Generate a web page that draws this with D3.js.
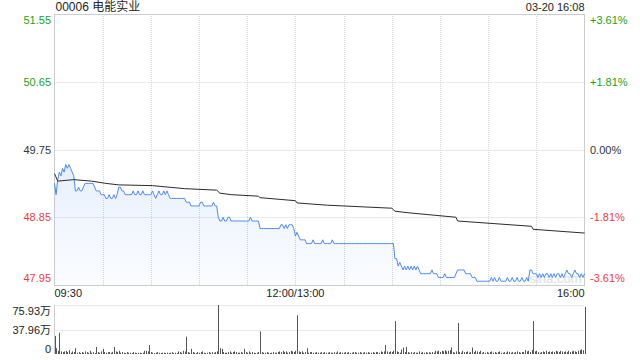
<!DOCTYPE html>
<html>
<head>
<meta charset="utf-8">
<script src="https://cdn.jsdelivr.net/npm/d3@7"></script>
<style>
  body { margin: 0; background: #fff; }
  text { font-family: "Liberation Sans", Arial, "Noto Sans CJK SC", sans-serif; }
</style>
</head>
<body>
<div id="chart"></div>
<script>
// 分时数据：每分钟一个点，0 = 09:30，150 = 12:00/13:00，330 = 16:00
const titleText = '00006 电能实业';
const stampText = '03-20 16:08';
const prevClose = 49.75;

const priceTicks = [47.95, 48.85, 49.75, 50.65, 51.55];
const pctLabels = ['-3.61%', '-1.81%', '0.00%', '+1.81%', '+3.61%'];
const volTicks = [0, 37.96, 75.93];
const volLabels = ['0', '37.96万', '75.93万'];
const timeTicks = [0, 150, 330];
const timeLabels = ['09:30', '12:00/13:00', '16:00'];

const prices = [
  49.30, 49.15, 49.35, 49.45, 49.40, 49.50, 49.45, 49.55, 49.50, 49.55,
  49.50, 49.45, 49.40, 49.20, 49.20, 49.25, 49.20, 49.20, 49.25, 49.30,
  49.30, 49.30, 49.30, 49.30, 49.30, 49.25, 49.20, 49.20, 49.20, 49.15,
  49.15, 49.15, 49.10, 49.10, 49.15, 49.10, 49.10, 49.15, 49.10, 49.15,
  49.25, 49.25, 49.20, 49.20, 49.15, 49.15, 49.15, 49.15, 49.15, 49.20,
  49.15, 49.15, 49.20, 49.15, 49.15, 49.20, 49.15, 49.15, 49.15, 49.15,
  49.15, 49.20, 49.15, 49.10, 49.15, 49.20, 49.15, 49.15, 49.20, 49.15,
  49.20, 49.15, 49.10, 49.10, 49.10, 49.10, 49.10, 49.10, 49.10, 49.10,
  49.10, 49.10, 49.05, 49.05, 49.05, 49.00, 49.00, 49.00, 49.00, 49.00,
  49.00, 49.05, 49.05, 49.00, 49.00, 49.00, 49.00, 49.00, 49.00, 49.05,
  49.00, 49.00, 48.85, 48.80, 48.80, 48.85, 48.80, 48.80, 48.85, 48.85,
  48.80, 48.80, 48.80, 48.80, 48.80, 48.80, 48.80, 48.80, 48.80, 48.80,
  48.80, 48.80, 48.85, 48.80, 48.80, 48.80, 48.80, 48.80, 48.70, 48.70,
  48.70, 48.70, 48.70, 48.70, 48.70, 48.70, 48.70, 48.70, 48.70, 48.70,
  48.70, 48.75, 48.75, 48.70, 48.75, 48.70, 48.75, 48.75, 48.75, 48.70,
  48.60, 48.65, 48.60, 48.55, 48.55, 48.55, 48.55, 48.50, 48.50, 48.50,
  48.50, 48.55, 48.50, 48.50, 48.50, 48.50, 48.50, 48.55, 48.50, 48.50,
  48.50, 48.50, 48.50, 48.55, 48.50, 48.50, 48.50, 48.50, 48.50, 48.50,
  48.50, 48.50, 48.50, 48.50, 48.50, 48.50, 48.50, 48.50, 48.50, 48.50,
  48.50, 48.50, 48.50, 48.50, 48.50, 48.50, 48.50, 48.50, 48.50, 48.50,
  48.50, 48.50, 48.50, 48.50, 48.50, 48.50, 48.50, 48.50, 48.50, 48.50,
  48.50, 48.50, 48.30, 48.30, 48.20, 48.25, 48.20, 48.15, 48.20, 48.15,
  48.20, 48.15, 48.20, 48.15, 48.20, 48.15, 48.20, 48.15, 48.10, 48.10,
  48.10, 48.10, 48.10, 48.10, 48.10, 48.15, 48.10, 48.10, 48.10, 48.05,
  48.05, 48.05, 48.05, 48.10, 48.05, 48.05, 48.05, 48.05, 48.05, 48.05,
  48.10, 48.15, 48.15, 48.15, 48.15, 48.15, 48.10, 48.10, 48.10, 48.10,
  48.05, 48.05, 48.05, 48.00, 48.00, 48.00, 48.00, 48.00, 48.00, 48.00,
  48.00, 48.00, 48.05, 48.00, 48.05, 48.00, 48.00, 48.05, 48.00, 48.00,
  48.00, 48.00, 48.05, 48.00, 48.00, 48.05, 48.00, 48.00, 48.05, 48.00,
  48.00, 48.05, 48.00, 48.00, 48.05, 48.00, 48.15, 48.15, 48.10, 48.10,
  48.10, 48.05, 48.10, 48.05, 48.10, 48.05, 48.10, 48.10, 48.05, 48.10,
  48.05, 48.10, 48.05, 48.10, 48.10, 48.05, 48.10, 48.05, 48.10, 48.15,
  48.10, 48.10, 48.05, 48.10, 48.15, 48.10, 48.10, 48.05, 48.10, 48.05,
  48.10
];

// 均价线拐点 [分钟, 均价]
const avgPoints = [
  [0, 49.43], [2, 49.33], [12, 49.35], [23, 49.33], [32, 49.30], [40, 49.28],
  [61, 49.27], [81, 49.23], [101, 49.21], [103, 49.17], [110, 49.15],
  [127, 49.13], [128, 49.11], [150, 49.07], [151, 49.04], [170, 49.01],
  [210, 48.97], [212, 48.93], [220, 48.91], [250, 48.85], [251, 48.80],
  [297, 48.73], [298, 48.69], [330, 48.64]
];

// 成交量（万股）
const volumes = [
  28, 9, 5, 33, 4, 3, 4, 5, 3, 6,
  2, 4, 3, 9, 2, 3, 1, 3, 2, 4,
  3, 2, 5, 2, 3, 1, 11, 3, 2, 4,
  8, 3, 2, 3, 3, 2, 3, 11, 4, 3,
  5, 2, 3, 2, 1, 3, 2, 2, 1, 3,
  2, 1, 2, 2, 1, 2, 5, 5, 4, 14,
  3, 2, 1, 2, 3, 2, 1, 2, 2, 1,
  2, 1, 2, 3, 1, 2, 1, 4, 3, 2,
  5, 4, 27, 3, 2, 8, 3, 2, 1, 3,
  2, 3, 4, 2, 1, 2, 3, 2, 3, 2,
  3, 4, 75.93, 9, 8, 3, 2, 2, 3, 4,
  2, 3, 4, 3, 2, 2, 3, 2, 8, 3,
  2, 4, 2, 3, 2, 1, 2, 3, 35, 3,
  2, 2, 3, 2, 1, 2, 3, 2, 2, 3,
  4, 3, 5, 3, 4, 2, 3, 5, 4, 3,
  5, 60, 4, 3, 4, 2, 3, 9, 2, 3,
  3, 2, 2, 3, 2, 2, 3, 2, 3, 2,
  2, 3, 2, 2, 3, 2, 4, 2, 3, 2,
  2, 3, 2, 3, 1, 2, 3, 3, 2, 2,
  3, 2, 2, 3, 2, 3, 2, 2, 3, 2,
  3, 3, 2, 4, 3, 4, 14, 4, 3, 4,
  3, 5, 51, 4, 3, 2, 7, 10, 3, 11,
  3, 2, 3, 2, 3, 2, 2, 4, 2, 3,
  2, 3, 2, 3, 2, 3, 2, 5, 4, 5,
  3, 5, 4, 6, 4, 5, 6, 10, 3, 2,
  4, 48, 3, 2, 5, 3, 3, 4, 2, 3,
  10, 3, 5, 4, 3, 5, 2, 3, 2, 3,
  2, 3, 4, 2, 3, 2, 3, 4, 2, 2,
  3, 2, 4, 3, 2, 3, 2, 3, 4, 3,
  2, 3, 3, 6, 4, 5, 3, 6, 51, 4,
  5, 3, 2, 3, 4, 3, 5, 3, 4, 3,
  4, 3, 5, 4, 3, 5, 4, 3, 4, 3,
  5, 3, 4, 5, 4, 3, 5, 6, 7, 6,
  73
];

const W = 640, H = 360;
const plotLeft = 54.5, plotRight = 584.5;
const plotTop = 14, plotBottom = 285;
const volTop = 305, volBottom = 354;

const green = '#1aa31a', red = '#f03c3c', dark = '#333';
const gridColor = '#d6d6d6';
const tickColor = v => v > prevClose ? green : (v < prevClose ? red : dark);

const svg = d3.select('#chart').append('svg')
  .attr('width', W)
  .attr('height', H);

const x = d3.scaleLinear().domain([0, 330]).range([plotLeft, plotRight]);
const y = d3.scaleLinear().domain([priceTicks[0], priceTicks[priceTicks.length - 1]]).range([plotBottom, plotTop]);
const yv = d3.scaleLinear().domain([0, volTicks[volTicks.length - 1]]).range([volBottom, volTop]);

// 渐变填充
const grad = svg.append('defs').append('linearGradient')
  .attr('id', 'fillGrad')
  .attr('gradientUnits', 'userSpaceOnUse')
  .attr('x1', 0).attr('y1', y(49.55)).attr('x2', 0).attr('y2', plotBottom);
grad.append('stop').attr('offset', 0).attr('stop-color', '#4a89f3').attr('stop-opacity', 0.13);
grad.append('stop').attr('offset', 1).attr('stop-color', '#4a89f3').attr('stop-opacity', 0.02);

// 网格
const grid = svg.append('g');
grid.selectAll('.hgrid')
  .data(priceTicks.slice(1, -1))
  .enter().append('line')
  .attr('x1', plotLeft).attr('x2', plotRight)
  .attr('y1', d => Math.round(y(d)) + 0.5)
  .attr('y2', d => Math.round(y(d)) + 0.5)
  .attr('stroke', gridColor)
  .attr('stroke-dasharray', '1,1');

const halfHours = d3.range(30, 330, 30);
grid.selectAll('.vgrid')
  .data(halfHours)
  .enter().append('line')
  .attr('x1', d => Math.round(x(d)) + 0.5)
  .attr('x2', d => Math.round(x(d)) + 0.5)
  .attr('y1', plotTop).attr('y2', plotBottom)
  .attr('stroke', gridColor)
  .attr('stroke-dasharray', '1,1');

// 外框
svg.append('rect')
  .attr('x', plotLeft).attr('y', plotTop + 0.5)
  .attr('width', plotRight - plotLeft).attr('height', plotBottom - plotTop)
  .attr('fill', 'none')
  .attr('stroke', '#cccccc');

// 水印
svg.append('text')
  .attr('x', plotRight - 3).attr('y', plotBottom - 2)
  .attr('text-anchor', 'end')
  .attr('font-size', 13)
  .attr('fill', '#e2e2e2')
  .text('sina.com');

// 面积 + 价格线
const area = d3.area()
  .x((d, i) => x(i))
  .y0(plotBottom)
  .y1(d => y(d));

svg.append('path')
  .datum(prices)
  .attr('d', area)
  .attr('fill', 'url(#fillGrad)');

const line = d3.line()
  .x((d, i) => x(i))
  .y(d => y(d));

svg.append('path')
  .datum(prices)
  .attr('d', line)
  .attr('fill', 'none')
  .attr('stroke', '#4a89f3')
  .attr('stroke-width', 1);

// 均价线
svg.append('path')
  .datum(avgPoints)
  .attr('d', d3.line().x(d => x(d[0])).y(d => y(d[1])))
  .attr('fill', 'none')
  .attr('stroke', '#2b2b2b')
  .attr('stroke-width', 1);

// 左右刻度
const labelY = (i, n, yy) => i === 0 ? yy - 7 : (i === n - 1 ? yy + 6 : yy);

svg.append('g').selectAll('text')
  .data(priceTicks)
  .enter().append('text')
  .attr('x', 51)
  .attr('y', (d, i) => labelY(i, priceTicks.length, y(d)))
  .attr('text-anchor', 'end')
  .attr('dominant-baseline', 'central')
  .attr('font-size', 11)
  .attr('fill', d => tickColor(d))
  .text(d => d.toFixed(2));

svg.append('g').selectAll('text')
  .data(priceTicks)
  .enter().append('text')
  .attr('x', 590)
  .attr('y', (d, i) => labelY(i, priceTicks.length, y(d)))
  .attr('text-anchor', 'start')
  .attr('dominant-baseline', 'central')
  .attr('font-size', 11)
  .attr('fill', d => tickColor(d))
  .text((d, i) => pctLabels[i]);

// 标题
svg.append('text')
  .attr('x', plotLeft + 1).attr('y', 7)
  .attr('dominant-baseline', 'central')
  .attr('font-size', 12)
  .attr('fill', '#222')
  .text(titleText);

svg.append('text')
  .attr('x', plotRight).attr('y', 7)
  .attr('text-anchor', 'end')
  .attr('dominant-baseline', 'central')
  .attr('font-size', 11)
  .attr('fill', '#222')
  .text(stampText);

// 时间轴
svg.append('g').selectAll('text')
  .data(timeTicks)
  .enter().append('text')
  .attr('x', d => x(d))
  .attr('y', 293)
  .attr('text-anchor', (d, i) => i === 0 ? 'start' : (i === timeTicks.length - 1 ? 'end' : 'middle'))
  .attr('dominant-baseline', 'central')
  .attr('font-size', 11)
  .attr('fill', '#222')
  .text((d, i) => timeLabels[i]);

// 成交量区
svg.append('g').selectAll('line')
  .data(volTicks.slice(1))
  .enter().append('line')
  .attr('x1', plotLeft).attr('x2', plotRight)
  .attr('y1', d => Math.round(yv(d)) + 0.5)
  .attr('y2', d => Math.round(yv(d)) + 0.5)
  .attr('stroke', gridColor)
  .attr('stroke-dasharray', '1,1');

svg.append('line')
  .attr('x1', plotLeft).attr('x2', plotLeft)
  .attr('y1', volTop).attr('y2', volBottom)
  .attr('stroke', '#cccccc');

svg.append('g').selectAll('line')
  .data(volumes)
  .enter().append('line')
  .attr('x1', (d, i) => Math.round(x(i)) + 0.5)
  .attr('x2', (d, i) => Math.round(x(i)) + 0.5)
  .attr('y1', volBottom)
  .attr('y2', d => Math.min(volBottom - 1, yv(d)))
  .attr('stroke', '#555')
  .attr('stroke-width', 1);

svg.append('g').selectAll('text')
  .data(volTicks)
  .enter().append('text')
  .attr('x', 51)
  .attr('y', (d, i) => i === 0 ? yv(d) - 5 : (i === volTicks.length - 1 ? yv(d) + 6 : yv(d)))
  .attr('text-anchor', 'end')
  .attr('dominant-baseline', 'central')
  .attr('font-size', 11)
  .attr('fill', '#222')
  .text((d, i) => volLabels[i]);
</script>
</body>
</html>
